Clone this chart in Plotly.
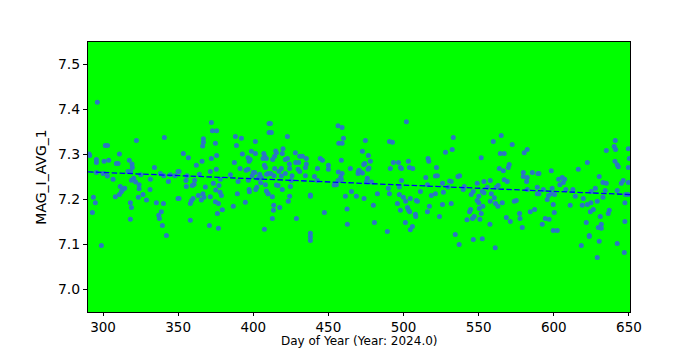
import plotly.graph_objects as go

# Day of year values
day = [
    296.2, 301.5, 303.0, 322.2, 340.8, 290.7, 291.1, 295.6, 295.6, 300.7, 303.8, 310.9, 308.9, 310.0,
    317.5, 319.3, 319.5, 295.6, 300.0, 302.9, 306.7, 316.6, 318.4, 325.1, 334.2, 338.2, 340.4, 344.8,
    349.9, 343.5, 331.5, 318.9, 320.4, 321.7, 324.0, 324.0, 311.5, 313.1, 314.4, 312.2, 310.9, 308.2,
    326.6, 323.5, 331.3, 328.9, 335.5, 340.2, 293.6, 294.9, 318.2, 318.9, 338.8, 337.1, 337.5, 292.9,
    318.2, 339.5, 342.2, 298.9, 347.9, 349.9,
    372.1, 372.8, 375.6, 366.8, 366.8, 366.3, 374.8, 388.1, 392.1, 401.4, 388.8, 353.4, 356.8, 372.1,
    375.6, 365.9, 362.1, 392.7, 398.7, 401.4, 396.5, 397.9, 397.2, 407.0, 407.6, 406.5, 408.7, 387.4,
    391.2, 407.4, 408.1, 410.5, 410.5, 350.6, 371.4, 375.4, 364.1, 355.9, 384.8, 378.1, 395.2, 396.5,
    400.1, 401.0, 399.2, 404.3, 405.4, 408.9, 355.2, 361.0, 360.6, 355.4, 359.4, 368.1, 373.4, 377.2,
    389.9, 396.7, 403.2, 404.9, 408.1, 375.0, 377.9, 378.8, 363.4, 366.5, 367.2, 365.4, 371.4, 359.9,
    358.8, 358.1, 350.6, 374.8, 376.8, 386.7, 379.4, 376.1, 394.7, 397.2, 397.4, 389.4, 402.3, 401.6,
    408.7, 409.8, 358.1, 370.8, 376.8, 407.4,
    411.4, 412.0, 422.7, 456.4, 459.1, 460.0, 456.9, 459.1, 414.9, 415.4, 419.8, 419.3, 414.2, 412.9,
    421.3, 422.7, 428.0, 430.9, 432.7, 435.3, 428.2, 430.2, 435.3, 444.6, 446.0, 458.6, 450.0, 450.0,
    442.7, 464.6, 414.2, 418.7, 417.1, 424.0, 424.2, 429.8, 430.9, 434.7, 421.3, 425.8, 409.8, 411.6,
    413.8, 418.7, 434.7, 440.7, 442.7, 456.6, 459.1, 458.2, 469.9, 469.7, 456.4, 458.6, 455.3, 453.8,
    425.3, 415.4, 416.5, 424.7, 419.3, 409.8, 412.7, 424.2, 423.3, 438.0, 438.0, 465.3, 461.3, 468.6,
    413.6, 413.4, 417.6, 462.4, 447.3, 412.7, 428.7, 462.6, 438.0, 438.0, 438.0,
    501.9, 474.6, 490.6, 492.6, 472.6, 476.6, 477.9, 474.1, 473.5, 477.0, 476.4, 471.0, 472.6, 470.4,
    493.2, 496.6, 503.2, 516.3, 516.8, 527.9, 491.2, 497.9, 498.6, 503.9, 506.1, 521.9, 521.2, 522.5,
    514.8, 498.6, 475.9, 475.2, 478.6, 515.9, 525.9, 497.2, 489.9, 490.6, 511.2, 482.6, 497.2, 499.9,
    504.5, 508.5, 509.2, 501.4, 521.2, 518.5, 526.5, 473.7, 495.9, 479.9, 502.6, 503.4, 504.1, 497.9,
    507.9, 508.1, 517.2, 515.9, 525.9, 523.9, 480.6, 501.2, 505.9, 504.5, 489.2, 529.6, 530.7,
    533.1, 532.4, 565.0, 559.7, 572.3, 564.4, 567.0, 551.7, 580.3, 582.3, 570.3, 569.7, 563.7, 566.4,
    579.7, 579.7, 582.3, 581.9, 585.7, 589.4, 536.2, 537.3, 531.7, 567.0, 569.0, 557.7, 553.5, 549.0,
    540.4, 539.7, 555.7, 563.0, 561.7, 582.3, 589.0, 589.0, 546.4, 545.0, 552.4, 553.5, 558.4, 550.1,
    560.4, 549.0, 550.1, 557.7, 565.7, 561.2, 562.8, 575.0, 573.7, 552.8, 550.4, 551.7, 544.6, 543.9,
    550.8, 587.2, 584.3, 577.2, 568.4, 577.5, 571.0, 547.0, 545.9, 542.2, 557.5, 579.0, 531.7, 534.4,
    537.0, 546.4, 552.4, 561.0,
    640.9, 640.2, 641.1, 634.9, 649.6, 650.2, 622.3, 616.3, 598.3, 640.7, 642.2, 642.9, 649.6, 590.1,
    630.2, 603.2, 605.6, 607.2, 606.3, 604.0, 632.7, 634.9, 644.9, 646.2, 649.6, 598.9, 593.0, 612.7,
    608.0, 627.6, 634.2, 624.9, 642.2, 590.1, 598.3, 600.5, 596.5, 595.6, 614.3, 619.6, 632.7, 628.9,
    647.8, 649.3, 624.7, 622.3, 618.9, 610.9, 599.6, 647.3, 626.3, 624.3, 600.3, 636.9, 636.2, 630.9,
    594.3, 596.9, 592.3, 621.6, 631.6, 629.6, 631.6, 647.3, 599.6, 602.3, 623.6, 623.6, 630.2, 642.2,
    618.3, 628.9, 646.9,
]

# MAG_I_AVG_1 values
mag = [
    7.415, 7.319, 7.319, 7.330, 7.337, 7.300, 7.297, 7.288, 7.281, 7.284, 7.286, 7.300, 7.279, 7.279,
    7.286, 7.278, 7.270, 7.259, 7.257, 7.251, 7.244, 7.261, 7.261, 7.254, 7.270, 7.257, 7.252, 7.254,
    7.261, 7.239, 7.244, 7.242, 7.246, 7.238, 7.232, 7.223, 7.228, 7.221, 7.224, 7.216, 7.210, 7.205,
    7.210, 7.204, 7.221, 7.198, 7.192, 7.190, 7.204, 7.192, 7.192, 7.181, 7.172, 7.164, 7.157, 7.170,
    7.155, 7.141, 7.119, 7.097, 7.252, 7.201,
    7.370, 7.352, 7.352, 7.334, 7.326, 7.318, 7.324, 7.339, 7.335, 7.328, 7.319, 7.301, 7.292, 7.290,
    7.297, 7.284, 7.275, 7.300, 7.306, 7.301, 7.292, 7.288, 7.284, 7.301, 7.295, 7.290, 7.290, 7.281,
    7.268, 7.275, 7.270, 7.368, 7.348, 7.261, 7.261, 7.266, 7.255, 7.252, 7.254, 7.244, 7.264, 7.266,
    7.259, 7.259, 7.252, 7.255, 7.248, 7.255, 7.241, 7.242, 7.233, 7.228, 7.230, 7.227, 7.235, 7.230,
    7.239, 7.242, 7.246, 7.236, 7.232, 7.220, 7.215, 7.208, 7.208, 7.212, 7.204, 7.198, 7.205, 7.201,
    7.196, 7.190, 7.201, 7.194, 7.190, 7.184, 7.176, 7.168, 7.193, 7.221, 7.216, 7.212, 7.226, 7.221,
    7.218, 7.212, 7.153, 7.141, 7.135, 7.133,
    7.368, 7.348, 7.339, 7.363, 7.359, 7.335, 7.324, 7.324, 7.307, 7.303, 7.312, 7.301, 7.295, 7.288,
    7.288, 7.290, 7.303, 7.295, 7.295, 7.290, 7.281, 7.281, 7.278, 7.290, 7.286, 7.286, 7.275, 7.266,
    7.268, 7.268, 7.268, 7.268, 7.262, 7.278, 7.268, 7.266, 7.261, 7.270, 7.257, 7.252, 7.257, 7.257,
    7.252, 7.251, 7.252, 7.250, 7.241, 7.260, 7.257, 7.249, 7.261, 7.257, 7.241, 7.244, 7.232, 7.231,
    7.241, 7.231, 7.230, 7.228, 7.221, 7.212, 7.205, 7.206, 7.195, 7.209, 7.206, 7.217, 7.206, 7.206,
    7.186, 7.175, 7.181, 7.178, 7.170, 7.157, 7.157, 7.144, 7.124, 7.116, 7.108,
    7.372, 7.330, 7.328, 7.326, 7.306, 7.297, 7.284, 7.279, 7.277, 7.269, 7.266, 7.261, 7.258, 7.264,
    7.281, 7.281, 7.284, 7.290, 7.284, 7.304, 7.268, 7.270, 7.268, 7.270, 7.268, 7.270, 7.251, 7.252,
    7.248, 7.241, 7.246, 7.238, 7.238, 7.232, 7.235, 7.227, 7.224, 7.212, 7.217, 7.212, 7.210, 7.204,
    7.201, 7.197, 7.195, 7.195, 7.212, 7.208, 7.215, 7.201, 7.190, 7.186, 7.181, 7.175, 7.172, 7.175,
    7.166, 7.161, 7.184, 7.172, 7.188, 7.161, 7.148, 7.148, 7.139, 7.132, 7.128, 7.227, 7.240,
    7.337, 7.310, 7.341, 7.328, 7.321, 7.301, 7.301, 7.292, 7.303, 7.310, 7.277, 7.270, 7.268, 7.263,
    7.259, 7.250, 7.248, 7.239, 7.259, 7.257, 7.250, 7.252, 7.239, 7.243, 7.239, 7.241, 7.239, 7.235,
    7.228, 7.221, 7.226, 7.230, 7.226, 7.221, 7.226, 7.212, 7.217, 7.210, 7.217, 7.214, 7.212, 7.206,
    7.203, 7.197, 7.192, 7.195, 7.192, 7.190, 7.184, 7.197, 7.195, 7.184, 7.179, 7.168, 7.177, 7.172,
    7.155, 7.177, 7.172, 7.168, 7.159, 7.157, 7.150, 7.161, 7.157, 7.154, 7.144, 7.137, 7.190, 7.121,
    7.099, 7.110, 7.112, 7.092,
    7.330, 7.317, 7.310, 7.308, 7.312, 7.290, 7.281, 7.266, 7.263, 7.284, 7.276, 7.272, 7.270, 7.257,
    7.250, 7.244, 7.248, 7.244, 7.237, 7.232, 7.237, 7.235, 7.235, 7.241, 7.237, 7.224, 7.221, 7.221,
    7.221, 7.224, 7.219, 7.217, 7.219, 7.212, 7.212, 7.210, 7.208, 7.199, 7.206, 7.201, 7.204, 7.195,
    7.210, 7.210, 7.192, 7.188, 7.186, 7.186, 7.188, 7.192, 7.177, 7.172, 7.170, 7.175, 7.168, 7.161,
    7.157, 7.155, 7.144, 7.148, 7.144, 7.137, 7.135, 7.150, 7.130, 7.130, 7.119, 7.117, 7.106, 7.101,
    7.097, 7.070, 7.081,
]

# Linear trend endpoints
trend_day = [290.0, 650.7]
trend_mag = [7.2605, 7.2100]

x_ticks = [300, 350, 400, 450, 500, 550, 600, 650]
y_ticks = [7.0, 7.1, 7.2, 7.3, 7.4, 7.5]

x_title = "Day of Year (Year: 2024.0)"
y_title = "MAG_I_AVG_1"

fig = go.Figure()
fig.add_trace(go.Scatter(
    x=day, y=mag, mode="markers",
    marker=dict(size=5, color="#2a78c2", line=dict(width=0)),
    showlegend=False, cliponaxis=True,
))
fig.add_trace(go.Scatter(
    x=trend_day, y=trend_mag, mode="lines",
    line=dict(color="blue", width=1.3, dash="5.5px,2.4px"),
    showlegend=False,
))

font = "DejaVu Sans, sans-serif"
fig.update_layout(
    width=700, height=350,
    margin=dict(l=88, r=70, t=42, b=38),
    paper_bgcolor="white",
    plot_bgcolor="#00ff00",
    font=dict(family=font, size=14, color="black"),
    xaxis=dict(
        range=[290.0, 650.7],
        tickvals=x_ticks,
        ticks="outside", ticklen=3, tickcolor="black", tickwidth=1,
        tickfont=dict(size=13.5),
        showgrid=False, zeroline=False, automargin=False,
        showline=True, linecolor="black", linewidth=1, mirror=True,
    ),
    yaxis=dict(
        range=[6.949, 7.549],
        tickvals=y_ticks,
        tickformat=".1f",
        ticks="outside", ticklen=4, tickcolor="black", tickwidth=1,
        showgrid=False, zeroline=False, automargin=False,
        showline=True, linecolor="black", linewidth=1, mirror=True,
        title=dict(text=y_title, standoff=8, font=dict(size=14)),
    ),
    annotations=[dict(
        text=x_title, xref="paper", yref="paper", x=0.5, y=-0.1407,
        xanchor="center", yanchor="bottom", showarrow=False,
        font=dict(family=font, size=12, color="black"),
    )],
)

fig.write_html("out.html")
